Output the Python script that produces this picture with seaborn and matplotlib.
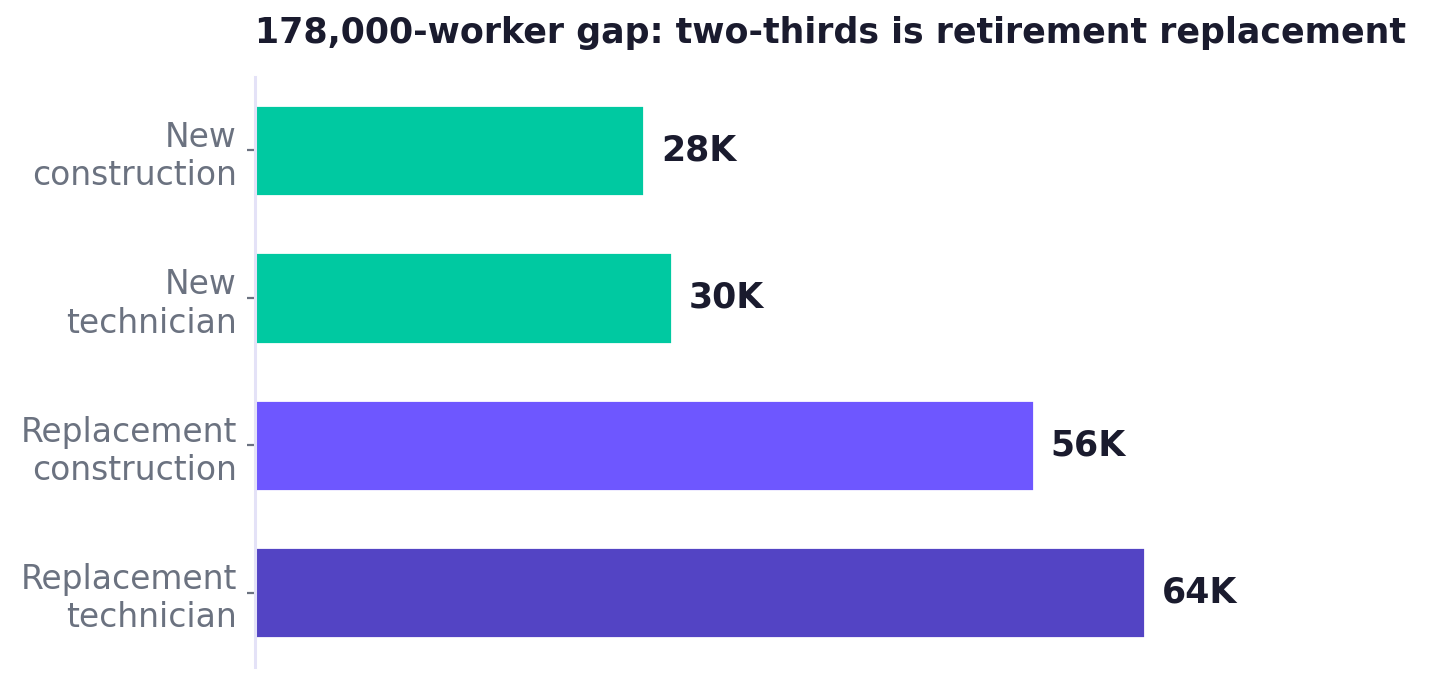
import matplotlib
matplotlib.use("Agg")
import matplotlib.pyplot as plt
import seaborn as sns
import pandas as pd

# data
categories = ["New\nconstruction", "New\ntechnician",
              "Replacement\nconstruction", "Replacement\ntechnician"]
workers_k = [28, 30, 56, 64]
bar_colors = ["#00C9A1", "#00C9A1", "#6E57FF", "#5344C4"]
value_labels = ["28K", "30K", "56K", "64K"]

df = pd.DataFrame({"category": categories, "workers": workers_k})

sns.set_theme(style="white")
plt.rcParams["font.family"] = ["DejaVu Sans"]

fig, ax = plt.subplots(figsize=(7.155, 3.425), dpi=200)
fig.subplots_adjust(left=0.178, right=0.91, top=0.888, bottom=0.027)

sns.barplot(data=df, y="category", x="workers", hue="category",
            palette=bar_colors, width=0.62, legend=False, ax=ax,
            saturation=1)

for cont, lab in zip(ax.containers, value_labels):
    ax.bar_label(cont, labels=[lab], padding=6, fontsize=12.5,
                 fontweight="bold", color="#1A1B2E")

ax.set_xlim(0, 75.3)
ax.set_ylim(3.5, -0.5)
ax.set_xlabel("")
ax.set_ylabel("")
ax.set_xticks([])
ax.tick_params(axis="y", length=3, width=0.8, color="#6B7280",
               labelsize=11.85, labelcolor="#6B7280", left=True)

for s in ["top", "right", "bottom"]:
    ax.spines[s].set_visible(False)
ax.spines["left"].set_color("#E4E2F7")
ax.spines["left"].set_linewidth(1.1)

ax.set_title("178,000-worker gap: two-thirds is retirement replacement",
             loc="left", fontsize=12.55, fontweight="bold", color="#1A1B2E",
             pad=12)

fig.savefig("out.png", dpi=200)
